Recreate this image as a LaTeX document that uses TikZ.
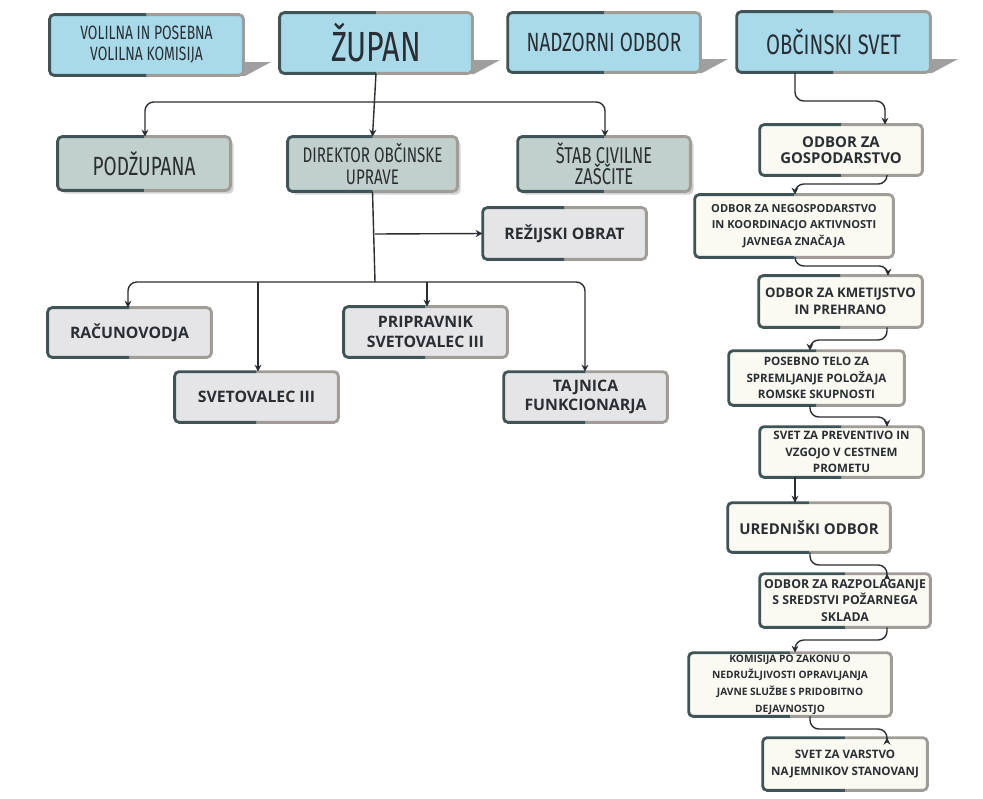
\documentclass[tikz,border=0pt]{standalone}
\usepackage{fontspec}
\setmainfont{Open Sans}
\newfontfamily\condf[FakeStretch=0.72]{Fira Sans}
\usetikzlibrary{shadows,arrows.meta}
\definecolor{bluef}{HTML}{A9DAEA}
\definecolor{sagef}{HTML}{C1D0CC}
\definecolor{grayf}{HTML}{E5E5E7}
\definecolor{creamf}{HTML}{FAFAF3}
\definecolor{bdark}{HTML}{3F5457}
\definecolor{blight}{HTML}{A09C98}
\definecolor{txt}{HTML}{2A2E33}
\tikzset{
  every node/.style={text=txt},
  base/.style={rectangle, rounded corners=2.5pt, inner sep=0pt, align=center},
  top/.style={base, fill=bluef, font=\condf},
  mid/.style={base, fill=sagef, font=\condf, drop shadow={shadow xshift=2pt, shadow yshift=-2pt, opacity=0.35}},
  low/.style={base, fill=grayf, font=\bfseries\fontsize{9}{11}\selectfont},
  rc/.style={base, fill=creamf, font=\bfseries\fontsize{7}{9.5}\selectfont},
  conn/.style={draw=txt, line width=0.8pt, rounded corners=5pt},
  arr/.style={conn, -{Stealth[length=4pt,width=4pt]}},
  bord/.style={line width=1.6pt, rounded corners=2.5pt},
  shad/.style={fill=gray!75, draw=none}
}
% \bx{name}{x1}{y1}{x2}{y2}{style}{text}
\newcommand{\bx}[7]{%
  \node[#6, minimum width={(#4-#2)*0.02cm}, minimum height={(#5-#3)*0.02cm}] (#1) at ({(#2+#4)/2},{(#3+#5)/2}) {#7};
  \begin{scope}\clip (#2-3,#3-3) rectangle ({(#2+#4)/2},#5+3);
    \draw[bord, bdark] (#1.north west) rectangle (#1.south east);\end{scope}
  \begin{scope}\clip ({(#2+#4)/2},#3-3) rectangle (#4+3,#5+3);
    \draw[bord, blight] (#1.north west) rectangle (#1.south east);\end{scope}
}
\newcommand{\shd}[3]{\fill[shad] (#1-2,#3-13) -- (#1+28,#3-13) -- (#1+2,#3+1) -- (#1-2,#3+1) -- cycle;}
\begin{document}
\begin{tikzpicture}[x=0.02cm, y=-0.02cm]
\useasboundingbox (0,0) rectangle (983,798);
\fill[white] (0,0) rectangle (983,798);
\shd{243}{15}{75}\shd{472}{13}{73}\shd{700}{13}{72}\shd{930}{12}{72}
\bx{vol}{50}{15}{243}{75}{top}{\fontsize{11}{13}\selectfont VOLILNA IN POSEBNA\\\fontsize{11}{13}\selectfont VOLILNA KOMISIJA}
\bx{zup}{280}{13}{472}{73}{top}{\fontsize{24}{26}\selectfont ŽUPAN}
\bx{nad}{508}{13}{700}{72}{top}{\fontsize{15}{17}\selectfont NADZORNI ODBOR}
\bx{obc}{737}{12}{930}{72}{top}{\fontsize{16}{18}\selectfont OBČINSKI SVET}
\bx{pod}{58}{137}{230}{190}{mid}{\fontsize{15}{17}\selectfont PODŽUPANA}
\bx{dir}{288}{137}{457}{191}{mid}{\fontsize{12}{14.5}\selectfont DIREKTOR OBČINSKE\\\fontsize{12}{14.5}\selectfont UPRAVE}
\bx{stab}{518}{137}{690}{191}{mid}{\fontsize{13}{15}\selectfont ŠTAB CIVILNE\\\fontsize{13}{15}\selectfont ZAŠČITE}
\bx{rez}{483}{208}{646}{259}{low}{REŽIJSKI OBRAT}
\bx{rac}{48}{308}{211}{357}{low}{RAČUNOVODJA}
\bx{pri}{344}{307}{507}{357}{low}{PRIPRAVNIK\\SVETOVALEC III}
\bx{sve}{175}{372}{338}{422}{low}{SVETOVALEC III}
\bx{taj}{504}{372}{667}{422}{low}{TAJNICA\\FUNKCIONARJA}
\bx{r1}{760}{125}{922}{175}{rc}{\fontsize{8.5}{11}\selectfont ODBOR ZA\\\fontsize{8.5}{11}\selectfont GOSPODARSTVO}
\bx{r2}{695}{195}{893}{257}{rc}{\fontsize{6.3}{8.5}\selectfont ODBOR ZA NEGOSPODARSTVO\\\fontsize{6.3}{8.5}\selectfont IN KOORDINACJO AKTIVNOSTI\\\fontsize{6.3}{8.5}\selectfont JAVNEGA ZNAČAJA}
\bx{r3}{759}{276}{922}{327}{rc}{\fontsize{7.5}{10}\selectfont ODBOR ZA KMETIJSTVO\\\fontsize{7.5}{10}\selectfont IN PREHRANO}
\bx{r4}{729}{351}{904}{405}{rc}{\fontsize{6.6}{8.8}\selectfont POSEBNO TELO ZA\\\fontsize{6.6}{8.8}\selectfont SPREMLJANJE POLOŽAJA\\\fontsize{6.6}{8.8}\selectfont ROMSKE SKUPNOSTI}
\bx{r5}{760}{427}{923}{477}{rc}{\fontsize{6.6}{8.8}\selectfont SVET ZA PREVENTIVO IN\\\fontsize{6.6}{8.8}\selectfont VZGOJO V CESTNEM\\\fontsize{6.6}{8.8}\selectfont PROMETU}
\bx{r6}{728}{503}{890}{552}{rc}{\fontsize{8.5}{11}\selectfont UREDNIŠKI ODBOR}
\bx{r7}{760}{574}{930}{627}{rc}{\fontsize{7}{9.3}\selectfont ODBOR ZA RAZPOLAGANJE\\\fontsize{7}{9.3}\selectfont S SREDSTVI POŽARNEGA\\\fontsize{7}{9.3}\selectfont SKLADA}
\bx{r8}{689}{653}{891}{716}{rc}{\fontsize{5.8}{7.8}\selectfont KOMISIJA PO ZAKONU O\\\fontsize{5.8}{7.8}\selectfont NEDRUŽLJIVOSTI OPRAVLJANJA\\\fontsize{5.8}{7.8}\selectfont JAVNE SLUŽBE S PRIDOBITNO\\\fontsize{5.8}{7.8}\selectfont DEJAVNOSTJO}
\bx{r9}{763}{738}{927}{790}{rc}{\fontsize{6.6}{8.8}\selectfont SVET ZA VARSTVO\\\fontsize{6.6}{8.8}\selectfont NAJEMNIKOV STANOVANJ}
% left tree
\draw[arr] (zup.south) -- (dir.north);
\draw[arr] (373,102) -- (145,102) -- (pod.north -| 145,0);
\draw[arr] (373,102) -- (605,102) -- (stab.north -| 605,0);
\draw[conn] (dir.south) -- (375,282);
\draw[arr] (375,234) -- (rez.west);
\draw[arr] (375,282) -- (128,282) -- (rac.north -| 128,0);
\draw[arr] (258,282) -- (sve.north -| 258,0);
\draw[arr] (375,282) -- (585,282) -- (taj.north -| 585,0);
\draw[arr] (427,282) -- (pri.north -| 427,0);
% right chain
\draw[arr] (obc.south -| 795,0) -- (795,101) -- (885,101) -- (r1.north -| 885,0);
\draw[arr] (r1.south -| 887,0) -- (887,184) -- (795,184) -- (r2.north -| 795,0);
\draw[arr] (r2.south -| 795,0) -- (795,266) -- (888,266) -- (r3.north -| 888,0);
\draw[arr] (r3.south -| 887,0) -- (887,340) -- (810,340) -- (r4.north -| 810,0);
\draw[arr] (r4.south -| 810,0) -- (810,417) -- (887,417) -- (r5.north -| 887,0);
\draw[arr] (r5.south -| 795,0) -- (795,493) -- (r6.north -| 795,0);
\draw[arr] (r6.south -| 810,0) -- (810,565) -- (887,565) -- (r7.north -| 887,0);
\draw[arr] (r7.south -| 887,0) -- (887,640) -- (795,640) -- (r8.north -| 795,0);
\draw[arr] (r8.south -| 810,0) -- (810,729) -- (887,729) -- (r9.north -| 887,0);
\end{tikzpicture}
\end{document}
